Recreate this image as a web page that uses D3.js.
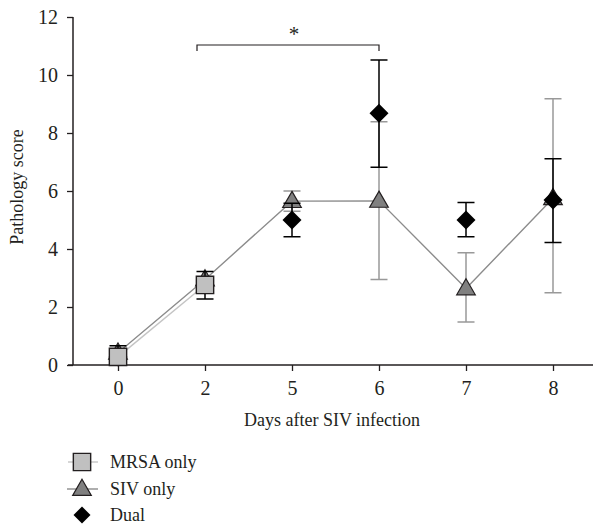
<!DOCTYPE html>
<html><head><meta charset="utf-8">
<script src="https://cdn.jsdelivr.net/npm/d3@7/dist/d3.min.js"></script>
<style>body{margin:0;background:#fff}svg{display:block}text{font-family:"Liberation Serif","DejaVu Serif",serif;fill:#231f20}</style>
</head><body><svg id="c" width="593" height="525"></svg>
<script>
const days = ["0","2","5","6","7","8"];
const yTicks = [0,2,4,6,8,10,12];
const mrsaDays = ["0","2"];
const mrsaVals = [0.28, 2.76];
const mrsaLo = [0.28, 2.28];
const mrsaHi = [0.66, 3.22];
const sivDays = ["0","2","5","6","7","8"];
const sivVals = [0.42, 2.95, 5.65, 5.66, 2.64, 5.75];
const sivLo = [0.42, 2.95, 5.3, 2.95, 1.48, 2.49];
const sivHi = [0.42, 2.95, 6.0, 8.39, 3.87, 9.18];
const dualDays = ["0","2","5","6","7","8"];
const dualVals = [0.28, 2.76, 5.0, 8.68, 5.0, 5.69];
const dualLo = [0.28, 2.76, 4.42, 6.82, 4.42, 4.22];
const dualHi = [0.28, 2.76, 5.58, 10.52, 5.6, 7.11];
const legendLabels = ["MRSA only","SIV only","Dual"];
const sigFrom = "2", sigTo = "6", sigLabel = "*";

const svg = d3.select("#c");
const x = d3.scalePoint().domain(days).range([118, 553]);
const y = d3.scaleLinear().domain([0,12]).range([365, 17]);
const ink = "#231f20";
const FF = '"Liberation Serif","DejaVu Serif",serif';

// axes
const xa = svg.append("g").attr("transform","translate(0,365)")
  .call(d3.axisBottom(x).tickSize(6).tickPadding(8));
xa.select(".domain").attr("d","M68,0H593");
xa.selectAll(".tick text").attr("y",30).attr("dy",0);
const ya = svg.append("g").attr("transform","translate(73,0)")
  .call(d3.axisLeft(y).tickValues(yTicks).tickSize(6).tickPadding(9));
ya.select(".domain").attr("d","M0,17V365");
[xa,ya].forEach(a=>{
  a.attr("font-size",20).attr("font-family",FF);
  a.selectAll(".domain").attr("stroke",ink).attr("stroke-width",1.5);
  a.selectAll(".tick line").attr("stroke",ink).attr("stroke-width",1.3);
  a.selectAll("text").attr("fill",ink);
});

svg.append("text").attr("x",332).attr("y",426).attr("text-anchor","middle").attr("font-size",18).text("Days after SIV infection");
svg.append("text").attr("transform","translate(23,187) rotate(-90)").attr("text-anchor","middle").attr("font-size",18).text("Pathology score");

// significance bracket
const bx1 = x(sigFrom)-8, bx2 = x(sigTo);
svg.append("path").attr("d",`M${bx1},51V45H${bx2}V51`).attr("fill","none").attr("stroke",ink).attr("stroke-width",1.2);
svg.append("text").attr("x",(bx1+bx2)/2+6).attr("y",41).attr("text-anchor","middle").attr("font-size",21).text(sigLabel);

// lines
const line = d3.line();
svg.append("path").attr("d",line(sivDays.map((d,i)=>[x(d),y(sivVals[i])])))
  .attr("fill","none").attr("stroke","#8c8c8c").attr("stroke-width",1.4);
svg.append("path").attr("d",line(mrsaDays.map((d,i)=>[x(d),y(mrsaVals[i])])))
  .attr("fill","none").attr("stroke","#c4c4c4").attr("stroke-width",1.4);

function errbars(days, lo, hi, color){
  const g = svg.append("g").attr("stroke",color).attr("stroke-width",1.5).attr("fill","none");
  days.forEach((d,i)=>{
    if (hi[i]===lo[i]) return;
    const cx = x(d);
    g.append("path").attr("d",`M${cx},${y(lo[i])}V${y(hi[i])}M${cx-8.5},${y(lo[i])}H${cx+8.5}M${cx-8.5},${y(hi[i])}H${cx+8.5}`);
  });
}
const tri = d3.symbol().type(d3.symbolTriangle).size(150);
const sq = d3.symbol().type(d3.symbolSquare).size(300);
const dia = s => `M0,${-s}L${s},0L0,${s}L${-s},0Z`;

// SIV
errbars(sivDays, sivLo, sivHi, "#999");
svg.append("g").selectAll("path").data(sivDays).join("path")
  .attr("transform",(d,i)=>`translate(${x(d)},${y(sivVals[i])+1})`)
  .attr("d",tri).attr("fill","#808080").attr("stroke",ink).attr("stroke-width",1.2);
// Dual
errbars(dualDays, dualLo, dualHi, "#000");
svg.append("g").selectAll("path").data(dualDays).join("path")
  .attr("transform",(d,i)=>`translate(${x(d)},${y(dualVals[i])})`)
  .attr("d",dia(9.5)).attr("fill","#000");
// MRSA
errbars(mrsaDays, mrsaLo, mrsaHi, "#000");
svg.append("g").selectAll("path").data(mrsaDays).join("path")
  .attr("transform",(d,i)=>`translate(${x(d)},${y(mrsaVals[i])})`)
  .attr("d",sq).attr("fill","#c0c0c0").attr("stroke",ink).attr("stroke-width",1.4);

// legend
const lg = svg.append("g");
const rows = [462, 489, 515];
lg.append("line").attr("x1",68).attr("x2",98).attr("y1",rows[0]).attr("y2",rows[0]).attr("stroke","#c4c4c4").attr("stroke-width",1.4);
lg.append("path").attr("transform",`translate(82,${rows[0]})`).attr("d",sq).attr("fill","#c0c0c0").attr("stroke",ink).attr("stroke-width",1.4);
lg.append("line").attr("x1",67).attr("x2",98).attr("y1",rows[1]).attr("y2",rows[1]).attr("stroke","#8c8c8c").attr("stroke-width",1.4);
lg.append("path").attr("transform",`translate(82,${rows[1]+1})`).attr("d",tri).attr("fill","#808080").attr("stroke",ink).attr("stroke-width",1.2);
lg.append("path").attr("transform",`translate(82,${rows[2]})`).attr("d",dia(8.5)).attr("fill","#000");
legendLabels.forEach((t,i)=>lg.append("text").attr("x",110).attr("y",rows[i]+6).attr("font-size",18).text(t));
</script></body></html>
